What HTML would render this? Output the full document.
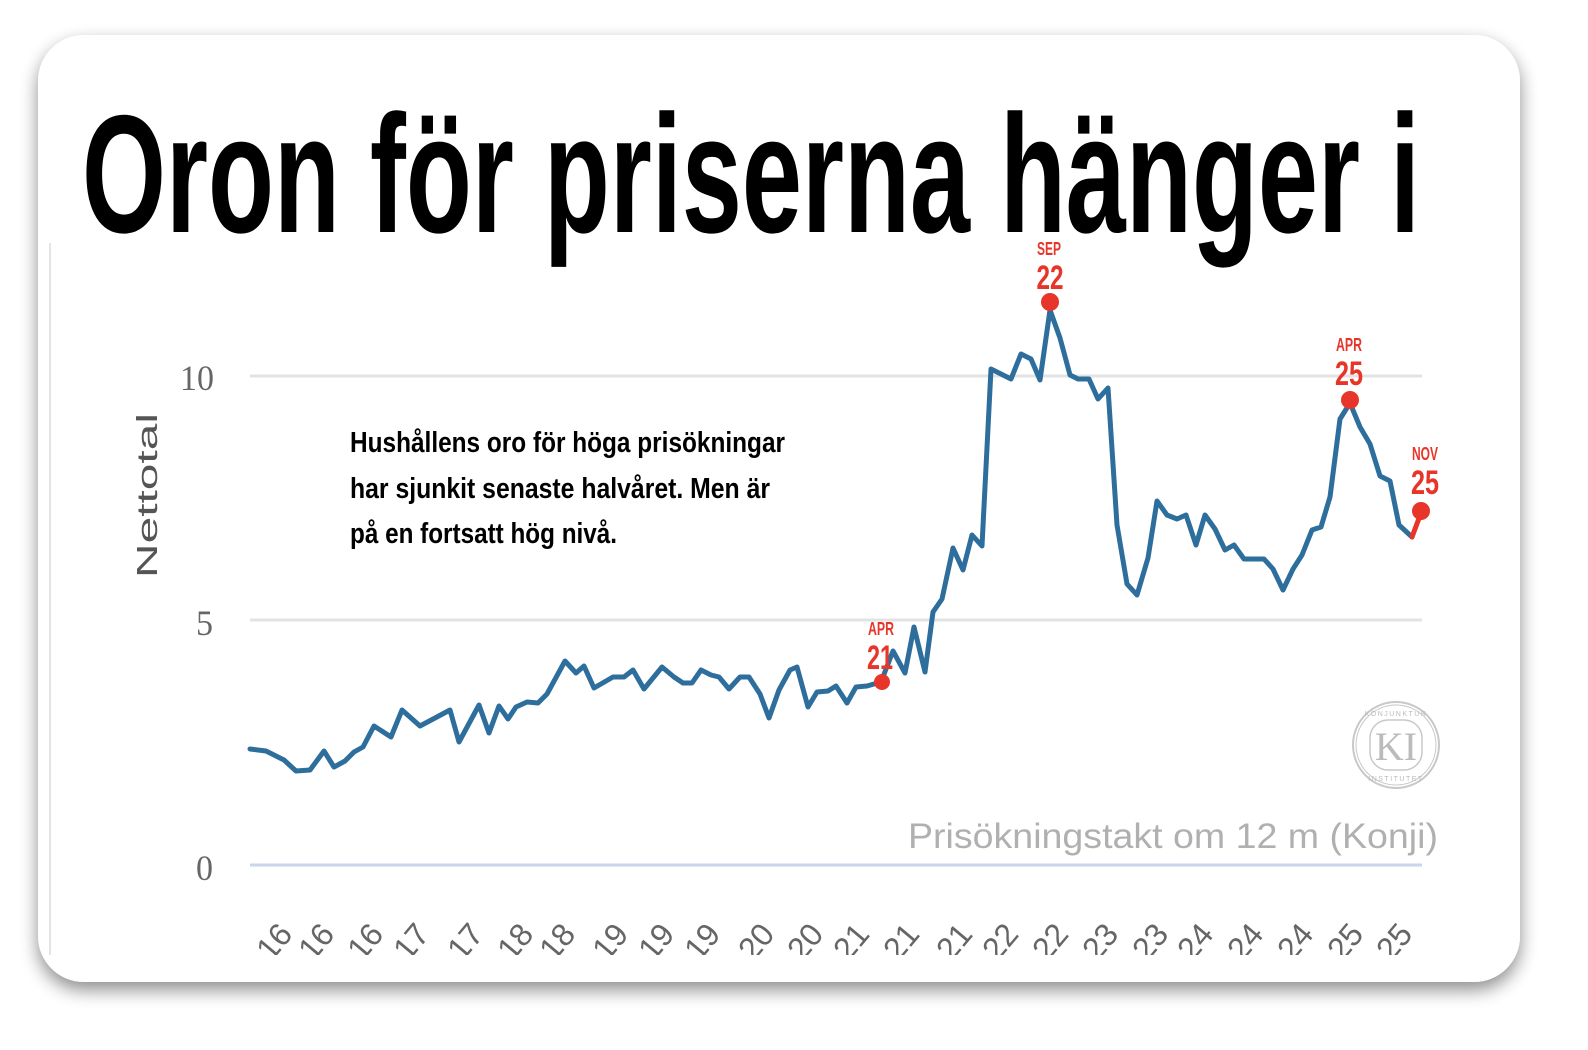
<!DOCTYPE html>
<html><head><meta charset="utf-8"><style>
html,body{margin:0;padding:0;background:#fff;}
svg{display:block;}
</style></head><body>
<svg width="1588" height="1050" viewBox="0 0 1588 1050" xmlns="http://www.w3.org/2000/svg">
<defs>
<filter id="sh" x="-10%" y="-10%" width="120%" height="125%">
<feGaussianBlur in="SourceAlpha" stdDeviation="9"/>
<feOffset dx="0" dy="8"/>
<feComponentTransfer><feFuncA type="linear" slope="0.45"/></feComponentTransfer>
<feMerge><feMergeNode/><feMergeNode in="SourceGraphic"/></feMerge>
</filter>
<clipPath id="cl"><rect x="38" y="35" width="1482" height="920"/></clipPath>
</defs>
<rect x="38" y="35" width="1482" height="947" rx="46" fill="#fff" filter="url(#sh)"/>
<line x1="50" y1="243" x2="50" y2="955" stroke="#e4e4e4" stroke-width="2"/>

<line x1="250" y1="376" x2="1422" y2="376" stroke="#e3e3e3" stroke-width="3"/>
<line x1="250" y1="620" x2="1422" y2="620" stroke="#e3e3e3" stroke-width="3"/>
<line x1="250" y1="865" x2="1422" y2="865" stroke="#c9d6ea" stroke-width="3"/>

<g font-family="Liberation Serif, serif" fill="#666" font-size="36">
<text x="180" y="390" textLength="34" lengthAdjust="spacingAndGlyphs">10</text>
<text x="196" y="635" textLength="17" lengthAdjust="spacingAndGlyphs">5</text>
<text x="196" y="880" textLength="17" lengthAdjust="spacingAndGlyphs">0</text>
</g>
<text transform="translate(157,578) rotate(-90)" font-family="Liberation Sans, sans-serif" font-size="29" fill="#555" textLength="165" lengthAdjust="spacingAndGlyphs">Nettotal</text>

<text x="82" y="232" font-family="Liberation Sans, sans-serif" font-weight="bold" font-size="168" fill="#000" textLength="1338" lengthAdjust="spacingAndGlyphs">Oron för priserna hänger i</text>

<g font-family="Liberation Sans, sans-serif" font-weight="bold" font-size="29" fill="#000">
<text x="350" y="452" textLength="435" lengthAdjust="spacingAndGlyphs">Hushållens oro för höga prisökningar</text>
<text x="350" y="498" textLength="420" lengthAdjust="spacingAndGlyphs">har sjunkit senaste halvåret. Men är</text>
<text x="350" y="543" textLength="267" lengthAdjust="spacingAndGlyphs">på en fortsatt hög nivå.</text>
</g>

<polyline fill="none" stroke="#2e6e9c" stroke-width="5" stroke-linejoin="round" stroke-linecap="round" points="
250,749 266,751 284,760 296,771 310,770 324,751 334,767 345,761 354,752 363,747 374,726 391,737 402,710 420,726 450,710 459,742 479,705 489,733 499,706 508,719 516,707 527,702 538,703 547,694 565,661 576,673 584,666 594,688 613,677 624,677 633,670 644,689 662,667 674,677 683,683 692,683 701,670 711,675 719,677 729,689 740,677 749,677 760,694 769,718 779,690 790,670 797,667 808,707 817,692 828,691 836,686 847,703 856,687 867,686 881,682 893,651 905,673 914,627 925,672 933,612 942,599 953,548 963,570 972,535 982,546 991,369 1011,379 1021,354 1031,359 1040,380 1050,310 1060,338 1070,375 1078,379 1089,379 1098,399 1108,388 1117,525 1127,584 1137,595 1148,558 1157,501 1167,515 1177,519 1186,515 1196,545 1205,515 1215,529 1225,550 1234,545 1244,559 1264,559 1273,569 1283,590 1293,569 1302,555 1312,530 1321,527 1330,497 1340,419 1350,403 1360,427 1370,444 1380,476 1390,481 1399,525 1412,537"/>
<line x1="1412" y1="537" x2="1421" y2="513" stroke="#e8352a" stroke-width="5" stroke-linecap="round"/>

<g fill="#e8352a">
<circle cx="882" cy="682" r="8"/>
<circle cx="1050" cy="302" r="9"/>
<circle cx="1350" cy="400" r="9"/>
<circle cx="1421" cy="511" r="9"/>
</g>
<g font-family="Liberation Sans, sans-serif" font-weight="bold" fill="#e8352a" text-anchor="middle">
<text x="881" y="635" font-size="18" textLength="26" lengthAdjust="spacingAndGlyphs">APR</text>
<text x="880" y="669" font-size="34" textLength="26" lengthAdjust="spacingAndGlyphs">21</text>
<text x="1049" y="255" font-size="18" textLength="24" lengthAdjust="spacingAndGlyphs">SEP</text>
<text x="1050" y="289" font-size="34" textLength="27" lengthAdjust="spacingAndGlyphs">22</text>
<text x="1349" y="351" font-size="18" textLength="26" lengthAdjust="spacingAndGlyphs">APR</text>
<text x="1349" y="385" font-size="34" textLength="28" lengthAdjust="spacingAndGlyphs">25</text>
<text x="1425" y="460" font-size="18" textLength="26" lengthAdjust="spacingAndGlyphs">NOV</text>
<text x="1425" y="494" font-size="34" textLength="28" lengthAdjust="spacingAndGlyphs">25</text>
</g>

<g fill="none" stroke="#c8c8c8">
<circle cx="1396" cy="745" r="43" stroke-width="2"/>
<circle cx="1396" cy="745" r="40" stroke-width="1"/>
<rect x="1370" y="720" width="52" height="50" rx="18" stroke-width="1.5"/>
</g>
<text x="1396" y="760" text-anchor="middle" font-family="Liberation Serif, serif" font-size="40" fill="#bbb">KI</text>
<text x="1396" y="716" text-anchor="middle" font-family="Liberation Sans, sans-serif" font-size="7" fill="#bbb" letter-spacing="1.5">KONJUNKTUR</text>
<text x="1396" y="781" text-anchor="middle" font-family="Liberation Sans, sans-serif" font-size="7" fill="#bbb" letter-spacing="1.5">INSTITUTET</text>

<text x="908" y="848" font-family="Liberation Sans, sans-serif" font-size="35" fill="#b0b0b0" textLength="530" lengthAdjust="spacingAndGlyphs">Prisökningstakt om 12 m (Konji)</text>

<g clip-path="url(#cl)" font-family="Liberation Sans, sans-serif" font-size="32" fill="#666" text-anchor="end">
<text transform="translate(294,935) rotate(-50)">16</text>
<text transform="translate(336,935) rotate(-50)">16</text>
<text transform="translate(385,935) rotate(-50)">16</text>
<text transform="translate(431,935) rotate(-50)">17</text>
<text transform="translate(485,935) rotate(-50)">17</text>
<text transform="translate(535,935) rotate(-50)">18</text>
<text transform="translate(577,935) rotate(-50)">18</text>
<text transform="translate(630,935) rotate(-50)">19</text>
<text transform="translate(676,935) rotate(-50)">19</text>
<text transform="translate(722,935) rotate(-50)">19</text>
<text transform="translate(776,935) rotate(-50)">20</text>
<text transform="translate(825,935) rotate(-50)">20</text>
<text transform="translate(871,935) rotate(-50)">21</text>
<text transform="translate(921,935) rotate(-50)">21</text>
<text transform="translate(974,935) rotate(-50)">21</text>
<text transform="translate(1020,935) rotate(-50)">22</text>
<text transform="translate(1070,935) rotate(-50)">22</text>
<text transform="translate(1120,935) rotate(-50)">23</text>
<text transform="translate(1170,935) rotate(-50)">23</text>
<text transform="translate(1215,935) rotate(-50)">24</text>
<text transform="translate(1265,935) rotate(-50)">24</text>
<text transform="translate(1315,935) rotate(-50)">24</text>
<text transform="translate(1365,935) rotate(-50)">25</text>
<text transform="translate(1414,935) rotate(-50)">25</text>
</g>
</svg>
</body></html>
